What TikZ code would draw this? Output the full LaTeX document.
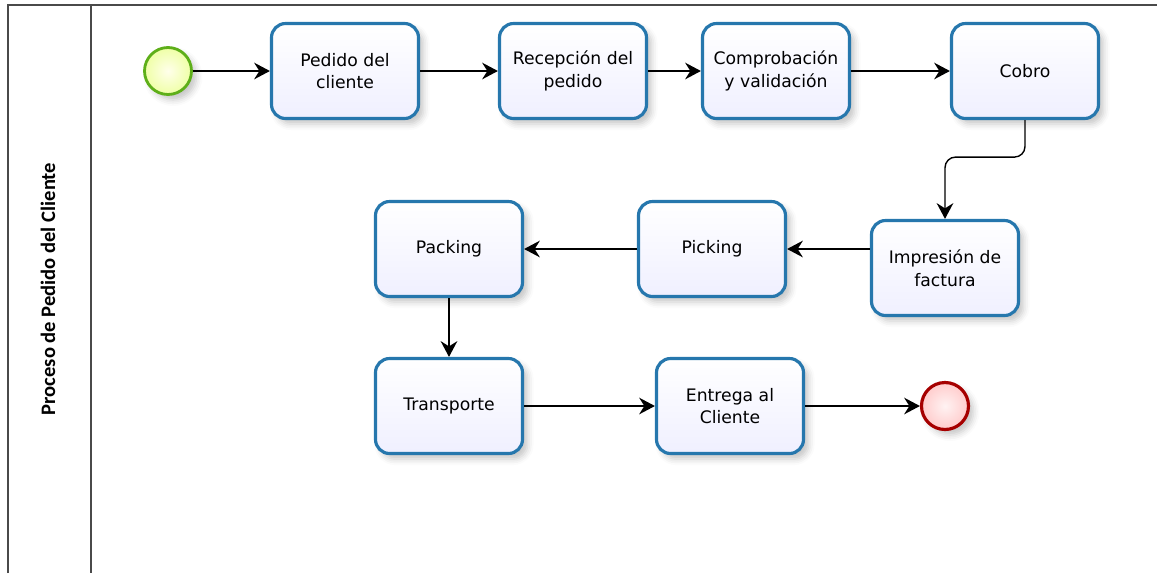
\documentclass[tikz,border=0pt]{standalone}
\usepackage{fontspec}
\setmainfont{DejaVu Sans}
\newfontfamily\lanefont{Carlito}
\usetikzlibrary{arrows.meta,shadows.blur}
\definecolor{taskblue}{HTML}{2677AD}
\definecolor{framegray}{HTML}{4A4A4A}
\tikzset{>={Stealth[length=9pt,width=9.5pt,inset=3pt]}}
\tikzset{
  softshadow/.style={blur shadow={shadow xshift=1mm,shadow yshift=-1.1mm,shadow blur radius=1.2mm,shadow opacity=22}},
  task/.style={draw=taskblue,line width=1.8pt,rounded corners=8pt,
    top color=white,bottom color=blue!6,
    minimum width=2.94cm,minimum height=1.9cm,align=center,
    font=\fontsize{9.8}{13}\selectfont,softshadow},
  startev/.style={circle,draw=green!50!black!70!yellow!90,line width=1.6pt,minimum size=.94cm,
    inner color=yellow!8,outer color=green!18!yellow!35,softshadow},
  endev/.style={circle,draw=red!65!black,line width=1.8pt,minimum size=.94cm,
    inner color=red!5,outer color=red!20,softshadow},
  flow/.style={->,line width=.8pt}
}
\newcommand*{\lanetxt}[1]{{\lanefont\bfseries\fontsize{11.7}{13}\selectfont #1}}

\begin{document}
\begin{tikzpicture}[x=.2mm,y=-.2mm]
\useasboundingbox (0,0) rectangle (1157,573);
\draw[framegray,line width=1.2pt] (8,573) -- (8,5) -- (1157,5);
\draw[framegray,line width=1.2pt] (91,5) -- (91,573);
\node[rotate=90] (lane) at (48,289) {\lanetxt{Proceso de Pedido del Cliente}};
\node[startev] (inicio) at (168,71) {};
\node[task] (pedido) at (345,71) {Pedido del\\cliente};
\node[task] (recep) at (573,71) {Recepción del\\pedido};
\node[task] (compr) at (776,71) {Comprobación\\y validación};
\node[task] (cobro) at (1025,71) {Cobro};
\node[task] (impr) at (945,268) {Impresión de\\factura};
\node[task] (picking) at (712,249) {Picking};
\node[task] (packing) at (449,249) {Packing};
\node[task] (transp) at (449,406) {Transporte};
\node[task] (entrega) at (730,406) {Entrega al\\Cliente};
\node[endev] (fin) at (945,406) {};
\draw[flow] (inicio) -- (pedido);
\draw[flow] (pedido) -- (recep);
\draw[flow] (recep) -- (compr);
\draw[flow] (compr) -- (cobro);
\draw[flow,rounded corners=6pt] (cobro.south) -- ++(0,37) -| (impr.north);
\draw[flow] (impr.west |- picking) -- (picking.east);
\draw[flow] (picking) -- (packing);
\draw[flow] (packing) -- (transp);
\draw[flow] (transp) -- (entrega);
\draw[flow] (entrega) -- (fin);
\end{tikzpicture}
\end{document}
